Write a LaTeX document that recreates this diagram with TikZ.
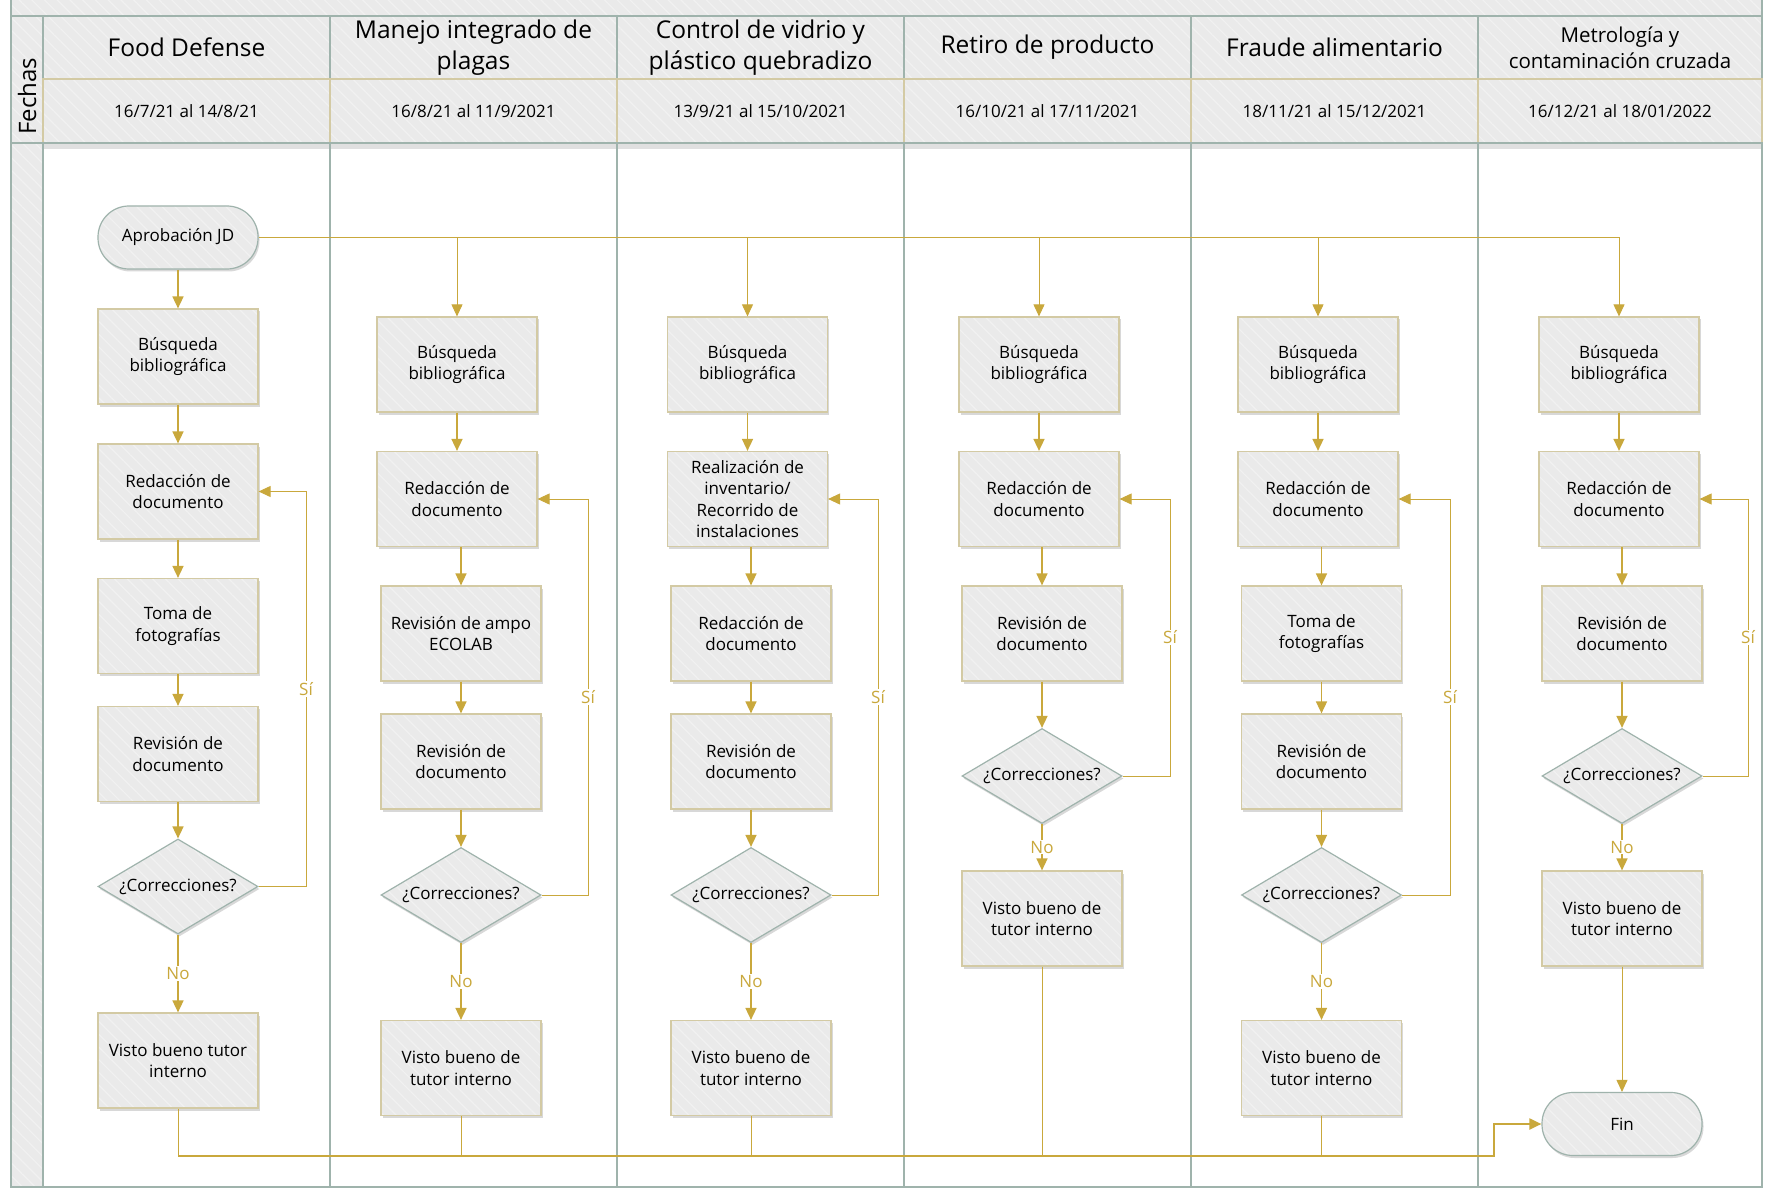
\documentclass[tikz,border=0pt]{standalone}
\usepackage{fontspec}
\setmainfont{Open Sans}
\usetikzlibrary{shapes.geometric,arrows.meta,shadows,patterns.meta}

\definecolor{gris}{HTML}{EAEAEA}
\definecolor{rayas}{HTML}{F1F1F1}
\definecolor{bordecaja}{HTML}{D3CAA4}
\definecolor{bordeverde}{HTML}{9FB3AC}
\definecolor{oro}{HTML}{C9A83C}

\tikzset{
    relleno/.style={preaction={fill=gris}, preaction={pattern={Lines[angle=-45,distance=9pt,line width=1.2pt]}, pattern color=rayas}},
    sombra/.style={drop shadow={shadow xshift=1.5pt, shadow yshift=-2.5pt, opacity=.25, fill=black!60}},
    texto/.style={font=\fontsize{17}{21.5}\selectfont},
    paso/.style={rectangle, sombra, relleno, draw=bordecaja, line width=1.2pt, texto, minimum width=160pt, minimum height=95pt, inner sep=2pt, align=center},
    decision/.style={diamond, sombra, relleno, draw=bordeverde, line width=1.2pt, texto, minimum width=160pt, minimum height=95pt, aspect=1.68, inner sep=0pt},
    terminal/.style={rectangle, rounded corners=31pt, sombra, relleno, draw=bordeverde, line width=1.2pt, texto, minimum width=160pt, minimum height=63pt},
    carril/.style={draw=bordeverde, line width=2pt},
    punta/.style={-{Triangle[length=12pt,width=11pt]}},
    flecha/.style={draw=oro, line width=1.6pt, punta},
    fina/.style={draw=oro, line width=0.9pt},
    flechafina/.style={fina, punta},
    colector/.style={draw=oro, line width=2pt, punta},
    etiqueta/.style={fill=white, text=oro, inner sep=1pt, texto},
}

\begin{document}
\begin{tikzpicture}[x=1pt,y=-1pt]

        \useasboundingbox (0,0) rectangle (1765,1190);
        \fill[white] (0,0) rectangle (1765,1190);

        % Encabezado
        \path[relleno, carril] (11,-10) rectangle (1762,16.5);
        \path[relleno, carril] (11,16.5) rectangle (43,143);
        \node[rotate=90, font=\fontsize{24}{28}\selectfont] (fechas) at (27,96) {Fechas};
        \foreach \c/\xa/\xb/\tam/\salto/\titulo/\fecha in {1/43/330/24.5/31/{Food Defense}/{16/7/21 al 14/8/21},
                2/330/617/24.5/31/{Manejo integrado de\\plagas}/{16/8/21 al 11/9/2021},
                3/617/904/24.5/31/{Control de vidrio y\\plástico quebradizo}/{13/9/21 al 15/10/2021},
                4/904/1191/24.5/31/{Retiro de producto}/{16/10/21 al 17/11/2021},
                5/1191/1478/24.5/31/{Fraude alimentario}/{18/11/21 al 15/12/2021},
                6/1478/1762/20.5/26/{Metrología y\\contaminación cruzada}/{16/12/21 al 18/01/2022}}
        {
            \path[relleno, carril] (\xa,16.5) rectangle (\xb,79);
            \path[relleno, draw=bordecaja, line width=1.2pt] (\xa,79) rectangle (\xb,143);
            \node[align=center, font=\fontsize{\tam}{\salto}\selectfont] (titulo\c) at ({(\xa+\xb)/2},47.5) {\titulo};
            \node[texto] (fecha\c) at ({(\xa+\xb)/2},111) {\fecha};
        }

        % Carriles
        \path[relleno, carril] (11,143) rectangle (43,1187);
        \draw[carril] (43,143) rectangle (1762,1187);
        \fill[black, opacity=.12] (44,144) rectangle (1761,149);
        \foreach \xc in {330,617,904,1191,1478}
            \draw[carril] (\xc,143) -- (\xc,1187);

        % Food Defense
        \node[terminal] (aprob) at (178,237.5) {Aprobación JD};
        \node[paso] (b1) at (178,356.5) {Búsqueda\\bibliográfica};
        \node[paso] (r1) at (178,491.5) {Redacción de\\documento};
        \node[paso] (p1) at (178,626) {Toma de\\fotografías};
        \node[paso] (v1) at (178,754) {Revisión de\\documento};
        \node[decision] (d1) at (178,886.5) {¿Correcciones?};
        \node[paso] (vb1) at (178,1060.5) {Visto bueno tutor\\interno};

        % Manejo integrado de plagas
        \node[paso] (b2) at (457,364.5) {Búsqueda\\bibliográfica};
        \node[paso] (r2) at (457,499) {Redacción de\\documento};
        \node[paso] (p2) at (461,633.5) {Revisión de ampo\\ECOLAB};
        \node[paso] (v2) at (461,761.5) {Revisión de\\documento};
        \node[decision] (d2) at (461,895) {¿Correcciones?};
        \node[paso] (vb2) at (461,1068) {Visto bueno de\\tutor interno};

        % Control de vidrio
        \node[paso] (b3) at (747.5,364.5) {Búsqueda\\bibliográfica};
        \node[paso] (r3) at (747.5,499) {Realización de\\inventario/\\Recorrido de\\instalaciones};
        \node[paso] (p3) at (751,633.5) {Redacción de\\documento};
        \node[paso] (v3) at (751,761.5) {Revisión de\\documento};
        \node[decision] (d3) at (751,895) {¿Correcciones?};
        \node[paso] (vb3) at (751,1068) {Visto bueno de\\tutor interno};

        % Retiro de producto
        \node[paso] (b4) at (1039,364.5) {Búsqueda\\bibliográfica};
        \node[paso] (r4) at (1039,499) {Redacción de\\documento};
        \node[paso] (v4) at (1042,633.5) {Revisión de\\documento};
        \node[decision] (d4) at (1042,776) {¿Correcciones?};
        \node[paso] (vb4) at (1042,918.5) {Visto bueno de\\tutor interno};

        % Fraude alimentario
        \node[paso] (b5) at (1318,364.5) {Búsqueda\\bibliográfica};
        \node[paso] (r5) at (1318,499) {Redacción de\\documento};
        \node[paso] (p5) at (1321.5,633.5) {Toma de\\fotografías};
        \node[paso] (v5) at (1321.5,761.5) {Revisión de\\documento};
        \node[decision] (d5) at (1321.5,895) {¿Correcciones?};
        \node[paso] (vb5) at (1321.5,1068) {Visto bueno de\\tutor interno};

        % Metrologia
        \node[paso] (b6) at (1619,364.5) {Búsqueda\\bibliográfica};
        \node[paso] (r6) at (1619,499) {Redacción de\\documento};
        \node[paso] (v6) at (1622,633.5) {Revisión de\\documento};
        \node[decision] (d6) at (1622,776) {¿Correcciones?};
        \node[paso] (vb6) at (1622,918.5) {Visto bueno de\\tutor interno};
        \node[terminal] (fin) at (1622,1124) {Fin};

        % Reparto desde la aprobacion
        \draw[flecha] (aprob) -- (b1);
        \draw[fina] (aprob.east) -- (aprob.east -| b6.north);
        \foreach \c in {2,...,6}
            \draw[flechafina] (aprob.east -| b\c.north) -- (b\c);

        % Pasos
        \foreach \c in {1,2,3,5}
            \foreach \desde/\hasta in {b/r, r/p, p/v, v/d}
                \draw[flecha] (\hasta\c |- \desde\c.south) -- (\hasta\c);
        \foreach \c in {4,6}
            \foreach \desde/\hasta in {b/r, r/v, v/d}
                \draw[flecha] (\hasta\c |- \desde\c.south) -- (\hasta\c);

        % No / Si
        \foreach \c/\xs in {1/306, 2/588, 3/878, 4/1170, 5/1450, 6/1748}
        {
            \draw[flecha] (vb\c |- d\c.south) -- node[etiqueta] {No} (vb\c);
            \coordinate (s\c) at (\xs,0);
            \draw[flechafina] (d\c.east) -- (d\c.east -| s\c) -- node[etiqueta] {Sí} (r\c.east -| s\c) -- (r\c.east);
        }

        % Cierre
        \coordinate (giro) at (1494,1156);
        \foreach \c in {1,...,5}
            \draw[fina] (vb\c) -- (vb\c |- giro);
        \draw[colector] (vb1 |- giro) -- (giro) |- (fin);
        \draw[flechafina] (vb6) -- (fin);

\end{tikzpicture}
\end{document}
